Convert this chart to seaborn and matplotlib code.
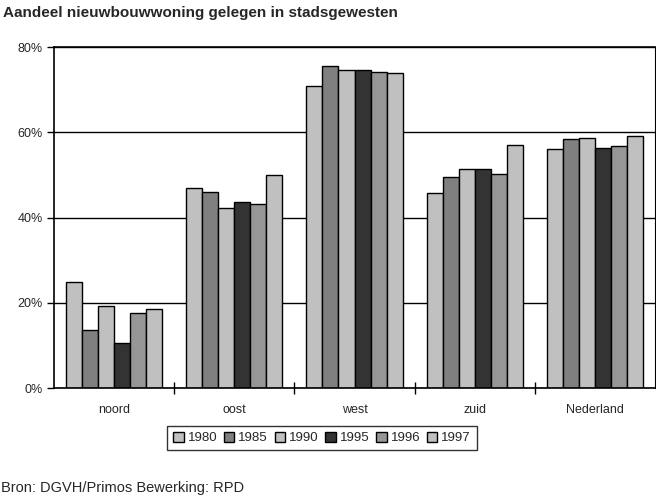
import pandas as pd
import matplotlib.pyplot as plt
import seaborn as sns
from matplotlib.ticker import PercentFormatter, FixedLocator

# Data (percent)
regions = ['noord', 'oost', 'west', 'zuid', 'Nederland']
years = ['1980', '1985', '1990', '1995', '1996', '1997']
v1980 = [24.9, 47.0, 70.8, 45.7, 56.0]
v1985 = [13.6, 45.9, 75.5, 49.5, 58.5]
v1990 = [19.2, 42.3, 74.5, 51.4, 58.7]
v1995 = [10.6, 43.7, 74.5, 51.4, 56.2]
v1996 = [17.5, 43.2, 74.2, 50.3, 56.8]
v1997 = [18.5, 50.0, 73.9, 57.0, 59.2]
colors = ['#c0c0c0', '#808080', '#c0c0c0', '#333333', '#969696', '#c0c0c0']

series = [v1980, v1985, v1990, v1995, v1996, v1997]
rows = []
for year, vals in zip(years, series):
    for reg, v in zip(regions, vals):
        rows.append({'regio': reg, 'jaar': year, 'aandeel': v})
df = pd.DataFrame(rows)

sns.set_style('white')
plt.rcParams['font.family'] = ['Liberation Sans', 'DejaVu Sans']

fig = plt.figure(figsize=(6.56, 4.97), dpi=100)
ax = fig.add_axes([0.0823, 0.2193, 0.9162, 0.6861])

sns.barplot(data=df, x='regio', y='aandeel', hue='jaar', order=regions,
            hue_order=years, palette=colors, width=0.8, edgecolor='black',
            linewidth=1.0, saturation=1, ax=ax, legend=False)

ax.set_ylim(0, 80)
ax.set_xlim(-0.5, 4.5)
ax.set_yticks([0, 20, 40, 60, 80])
ax.yaxis.set_major_formatter(PercentFormatter(decimals=0))
ax.yaxis.grid(True, color='black', linewidth=1.0)
ax.set_axisbelow(True)
ax.set_xlabel('')
ax.set_ylabel('')

for side in ['left', 'bottom', 'right', 'top']:
    ax.spines[side].set_visible(True)
    ax.spines[side].set_color('black')
    ax.spines[side].set_linewidth(1.2)
ax.spines['right'].set_linewidth(0.8)

ax.tick_params(axis='y', which='major', left=True, length=5, width=1,
               direction='out', labelsize=9, pad=3, color='black')
ax.tick_params(axis='x', which='major', bottom=False, labelsize=9, pad=8)
ax.xaxis.set_minor_locator(FixedLocator([0.5, 1.5, 2.5, 3.5]))
ax.tick_params(axis='x', which='minor', bottom=True, length=8,
               width=1, direction='inout', color='black')

handles = [plt.Rectangle((0, 0), 1, 1, facecolor=c, edgecolor='black', linewidth=1)
           for c in colors]
leg = fig.legend(handles, years, loc='center', bbox_to_anchor=(0.491, 0.119),
                 ncol=6, frameon=True, fancybox=False, fontsize=9.5,
                 handlelength=0.8, handleheight=0.8, handletextpad=0.3,
                 columnspacing=0.5, borderpad=0.45, edgecolor='black')
leg.get_frame().set_linewidth(1.0)

fig.text(0.004, 0.988, 'Aandeel nieuwbouwwoning gelegen in stadsgewesten',
         fontsize=11, fontweight='bold', va='top', ha='left')
fig.text(0.002, 0.004, 'Bron: DGVH/Primos Bewerking: RPD',
         fontsize=10.5, va='bottom', ha='left')

fig.savefig('out.png', dpi=100)
